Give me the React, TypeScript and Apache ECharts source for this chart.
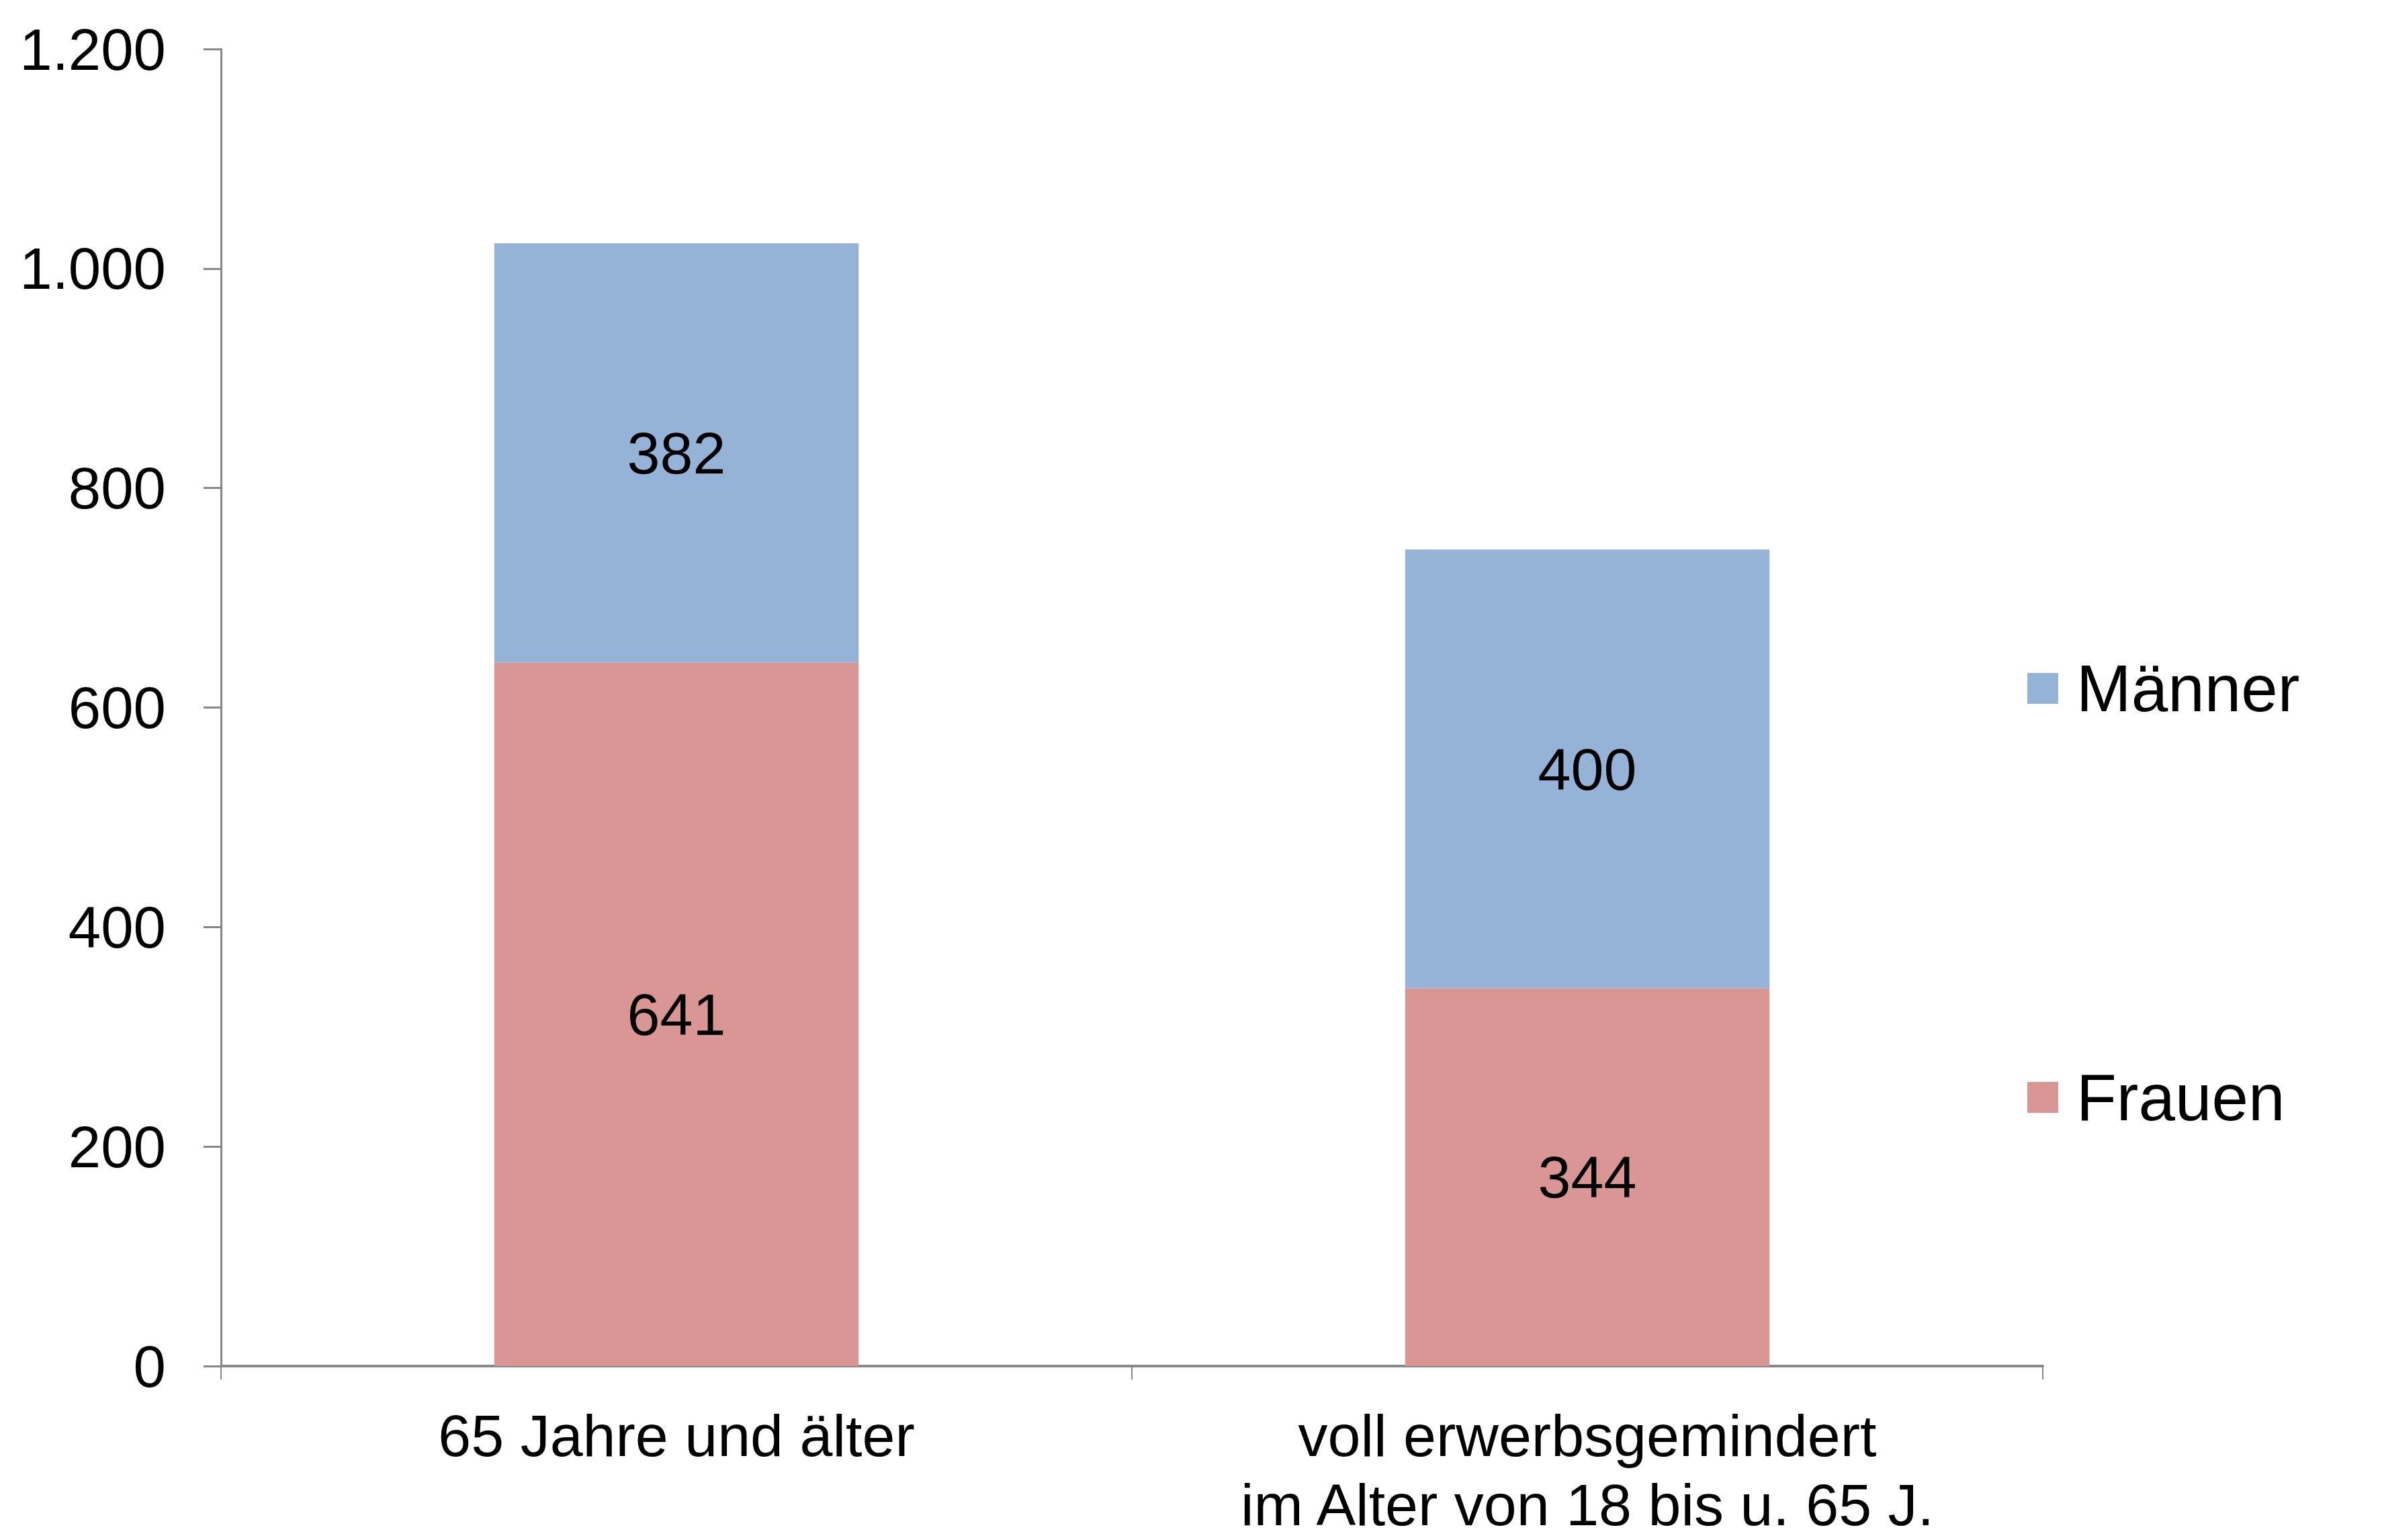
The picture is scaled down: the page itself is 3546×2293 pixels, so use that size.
import React, { useEffect, useRef } from "react";
import * as echarts from "echarts";

const categories = ["65 Jahre und älter", "voll erwerbsgemindert\nim Alter von 18 bis u. 65 J."];
const frauen = [641, 344];
const maenner = [382, 400];
const yTicks = { min: 0, max: 1200, interval: 200 };

const FONT = "'Liberation Sans', Arial, sans-serif";

export default function App() {
  const ref = useRef<HTMLDivElement>(null);
  useEffect(() => {
    const chart = echarts.init(ref.current!, null, { renderer: "svg" });
    chart.setOption({
      animation: false,
      backgroundColor: "#ffffff",
      textStyle: { fontFamily: FONT },
      grid: { left: 329, right: 505, top: 73, bottom: 259, containLabel: false },
      legend: {
        orient: "vertical",
        left: 3013,
        top: 970,
        itemWidth: 46,
        itemHeight: 46,
        itemGap: 509,
        icon: "rect",
        data: ["Männer", "Frauen"],
        textStyle: { fontSize: 98, color: "#000", fontFamily: FONT, lineHeight: 100, padding: [0, 0, 0, 22] },
      },
      xAxis: {
        type: "category",
        data: categories,
        axisLine: { lineStyle: { color: "#888888", width: 4 } },
        axisTick: { show: true, length: 20, lineStyle: { color: "#888888", width: 2 } },
        axisLabel: { fontSize: 88, color: "#000", lineHeight: 103, margin: 52, fontFamily: FONT, interval: 0 },
      },
      yAxis: {
        type: "value",
        min: yTicks.min,
        max: yTicks.max,
        interval: yTicks.interval,
        splitLine: { show: false },
        axisLine: { show: true, lineStyle: { color: "#888888", width: 3 } },
        axisTick: { show: true, length: 26, lineStyle: { color: "#888888", width: 3 } },
        axisLabel: {
          fontSize: 87,
          color: "#000",
          margin: 82,
          fontFamily: FONT,
          formatter: (v: number) => (v >= 1000 ? Math.floor(v / 1000) + "." + String(v % 1000).padStart(3, "0") : String(v)),
        },
      },
      series: [
        {
          name: "Frauen",
          type: "bar",
          stack: "total",
          data: frauen,
          barWidth: "40%",
          itemStyle: { color: "#D99694" },
          label: { show: true, position: "inside", fontSize: 88, color: "#000", fontFamily: FONT },
        },
        {
          name: "Männer",
          type: "bar",
          stack: "total",
          data: maenner,
          barWidth: "40%",
          itemStyle: { color: "#95B3D7" },
          label: { show: true, position: "inside", fontSize: 88, color: "#000", fontFamily: FONT },
        },
      ],
    });
    return () => chart.dispose();
  }, []);
  return <div ref={ref} style={{ position: "absolute", left: 0, top: 0, width: 3546, height: 2293 }} />;
}
